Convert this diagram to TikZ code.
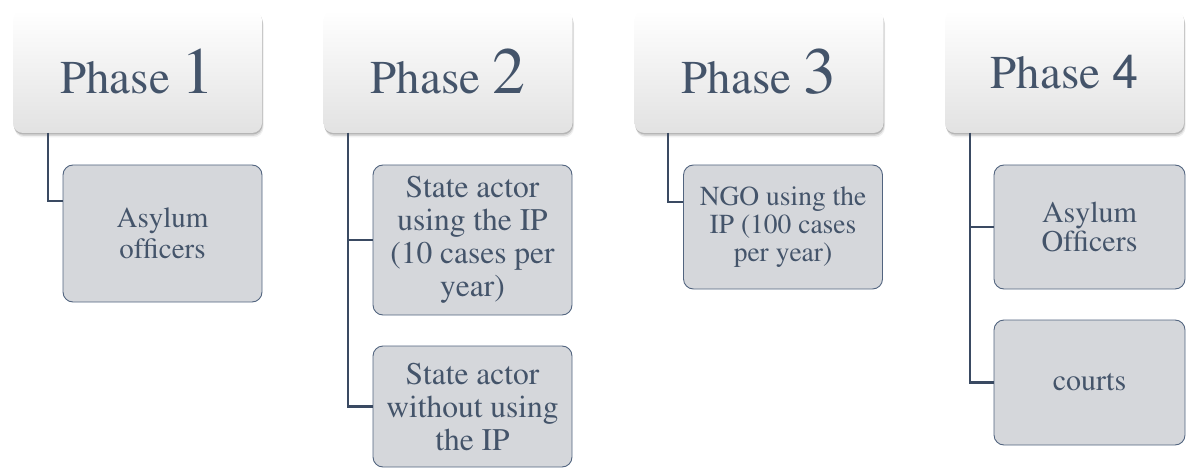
\documentclass[tikz,border=0pt]{standalone}
\usepackage[T1]{fontenc}
\usepackage{times}
\newcommand{\numsans}{\fontfamily{phv}\selectfont}
\usetikzlibrary{shadows,calc}
\definecolor{txt}{HTML}{44546A}
\definecolor{conn}{HTML}{3A4A62}
\definecolor{cfill}{HTML}{D5D7DB}
\definecolor{cdraw}{HTML}{52647F}
\definecolor{pbot}{HTML}{E2E2E2}
\newcommand{\bignum}[1]{{\fontsize{66}{66}\selectfont #1}}
\tikzset{
  phasebox/.style={rounded corners=10pt, top color=white, bottom color=pbot,
    minimum width=249pt, minimum height=123pt, inner sep=0pt, text=txt,
    drop shadow={shadow xshift=0.5pt, shadow yshift=-1.5pt, opacity=0.25, fill=black!70},
    drop shadow={shadow xshift=1pt, shadow yshift=-3pt, opacity=0.15, fill=black!70},
    drop shadow={shadow xshift=1.5pt, shadow yshift=-4.5pt, opacity=0.08, fill=black!70},
    font=\fontsize{47}{50}\selectfont},
  childbox/.style={rounded corners=10pt, fill=cfill, draw=cdraw, line width=0.9pt,
    minimum width=199pt, text=txt, align=center, inner sep=0pt},
  link/.style={draw=conn, line width=2.2pt},
}
\begin{document}
\begin{tikzpicture}[x=1pt,y=-1pt]
\useasboundingbox (0,0) rectangle (1186,468);
% phase boxes
\node[phasebox] (p1) at (137.5,71.5) {Phase \bignum{1}};
\node[phasebox] (p2) at (448,71.5) {Phase \bignum{2}};
\node[phasebox] (p3) at (759,71.5) {Phase \bignum{3}};
\node[phasebox, minimum width=239pt] (p4) at (1064.5,71.5) {Phase {\numsans 4}};
% child boxes
\node[childbox, minimum height=137pt, font=\fontsize{29}{31}\selectfont] (c1) at (162.5,233.5) {Asylum\\officers};
\node[childbox, minimum height=150pt, font=\fontsize{31.5}{33}\selectfont] (c2a) at (472.5,240) {State actor\\using the IP\\(10 cases per\\year)};
\node[childbox, minimum height=121pt, font=\fontsize{31.5}{33}\selectfont] (c2b) at (472.5,406.5) {State actor\\without using\\the IP};
\node[childbox, minimum height=124pt, font=\fontsize{27.5}{28}\selectfont] (c3) at (783,227) {NGO using the\\IP (100 cases\\per year)};
\node[childbox, minimum width=191pt, minimum height=124pt, font=\fontsize{30}{29}\selectfont] (c4a) at (1089.5,227) {Asylum\\Officers};
\node[childbox, minimum width=191pt, minimum height=125pt, font=\fontsize{30}{29}\selectfont] (c4b) at (1089.5,382.5) {courts};
% connectors
\coordinate (j1) at (48,133);
\coordinate (j2) at (348,133);
\coordinate (j3) at (668,133);
\coordinate (j4) at (970,133);
\draw[link] (j1) |- (c1.west |- 0,201);
\draw[link] (j2) |- (c2a.west);
\draw[link] (j2) |- (c2b.west);
\draw[link] (j3) |- (c3.west |- 0,202);
\draw[link] (j4) |- (c4a.west);
\draw[link] (j4) |- (c4b.west);
\end{tikzpicture}
\end{document}
